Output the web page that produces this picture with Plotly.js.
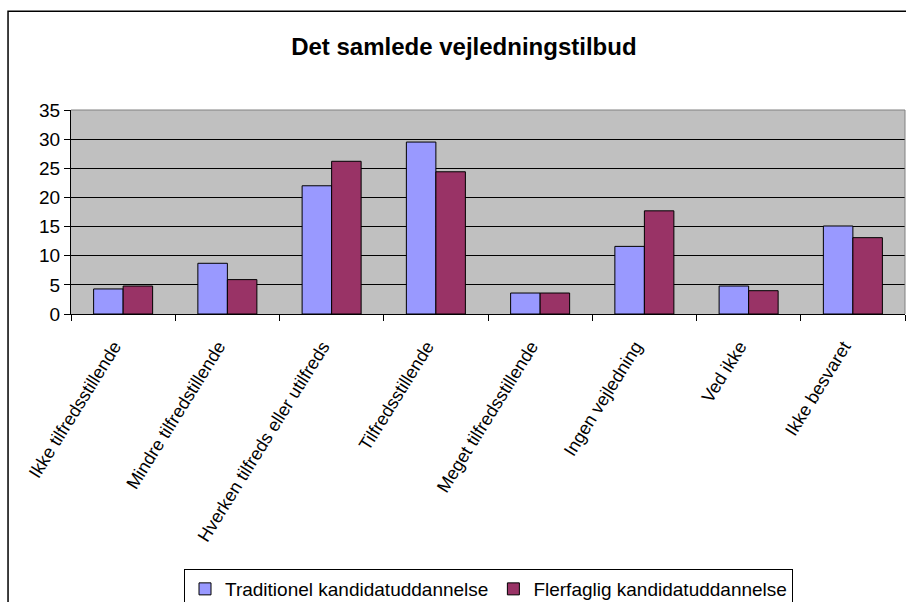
<!DOCTYPE html>
<html>
<head>
<meta charset="utf-8">
<script src="https://cdn.plot.ly/plotly-3.0.1.min.js"></script>
<style>html,body{margin:0;padding:0;background:#fff;}#chart{width:906px;height:602px;}</style>
</head>
<body>
<div id="chart"></div>
<script>
const categories = [
  "Ikke tilfredsstillende",
  "Mindre tilfredstillende",
  "Hverken tilfreds eller utilfreds",
  "Tilfredsstillende",
  "Meget tilfredsstillende",
  "Ingen vejledning",
  "Ved ikke",
  "Ikke besvaret"
];
const seriesNames = ["Traditionel kandidatuddannelse", "Flerfaglig kandidatuddannelse"];
const traditionel = [4.3, 8.7, 22.0, 29.5, 3.6, 11.6, 4.8, 15.1];
const flerfaglig  = [4.8, 5.9, 26.2, 24.4, 3.6, 17.7, 4.0, 13.1];
const yTicks = [0, 5, 10, 15, 20, 25, 30, 35];

const FONT = '"Liberation Sans", Arial, sans-serif';

const data = [
  {type: 'bar', name: seriesNames[0], x: categories, y: traditionel,
   marker: {color: '#9999FF', line: {color: '#000000', width: 1}}},
  {type: 'bar', name: seriesNames[1], x: categories, y: flerfaglig,
   marker: {color: '#993366', line: {color: '#000000', width: 1}}}
];

const layout = {
  width: 906, height: 602,
  margin: {l: 71, r: 1, t: 110, b: 288, pad: 0, autoexpand: false},
  paper_bgcolor: '#ffffff',
  plot_bgcolor: '#C0C0C0',
  font: {family: FONT, size: 18, color: '#000'},
  title: {text: '<b>Det samlede vejledningstilbud</b>', font: {family: FONT, size: 24, color: '#000'},
          xref: 'container', x: 0.512, xanchor: 'center', yref: 'container', y: 0.922, yanchor: 'middle'},
  barmode: 'group', bargap: 0.434, bargroupgap: 0,
  showlegend: true,
  legend: {orientation: 'h', xref: 'container', x: 0.2031, xanchor: 'left', yref: 'container', y: 0.0548, yanchor: 'top',
           bordercolor: '#000', borderwidth: 1, bgcolor: '#fff', itemwidth: 30,
           font: {family: FONT, size: 19, color: '#000'}, traceorder: 'normal'},
  xaxis: {type: 'category', tickson: 'boundaries', ticks: 'outside', ticklen: 6, tickcolor: '#000',
          showline: true, linecolor: '#000', linewidth: 1, showgrid: false, zeroline: false,
          tickangle: -58, ticklabelstandoff: 14, ticklabelshift: -9,
          tickfont: {family: FONT, size: 18, color: '#000'}, automargin: false},
  yaxis: {range: [0, 35], tickvals: yTicks, ticktext: yTicks.map(String), ticks: 'outside', ticklen: 6, tickcolor: '#000',
          showline: true, linecolor: '#000', linewidth: 1, showgrid: true, gridcolor: '#000', gridwidth: 1,
          zeroline: false, tickfont: {family: FONT, size: 19, color: '#000'}, automargin: false, fixedrange: true},
  shapes: [
    {type: 'line', xref: 'paper', yref: 'paper', x0: 0, x1: 1, y0: 1, y1: 1, line: {color: '#808080', width: 1}},
    {type: 'line', xref: 'paper', yref: 'paper', x0: 1, x1: 1, y0: 0, y1: 1, line: {color: '#808080', width: 1}},
    {type: 'rect', xref: 'paper', yref: 'paper', x0: -0.0755, x1: 1.2, y0: -2, y1: 1.484,
     line: {color: '#000', width: 1.5}, fillcolor: 'rgba(0,0,0,0)', layer: 'below'}
  ]
};

Plotly.newPlot('chart', data, layout, {displayModeBar: false, staticPlot: true});
</script>
</body>
</html>
